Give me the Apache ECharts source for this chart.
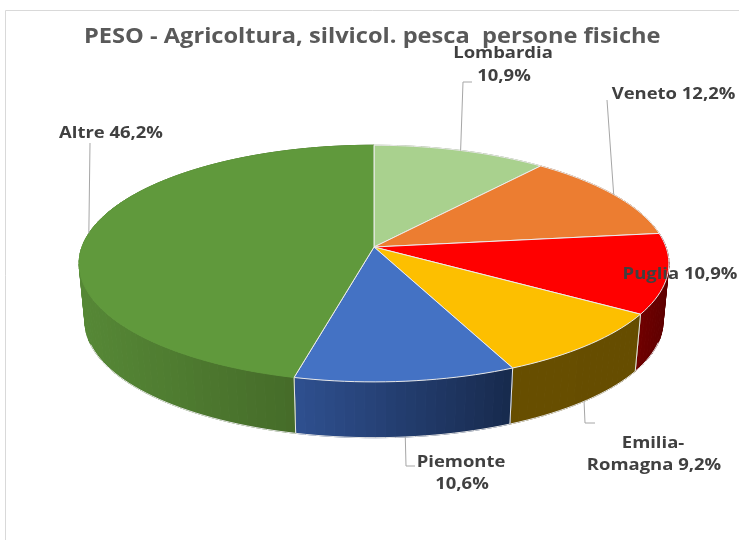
<!DOCTYPE html>
<html>
<head>
<meta charset="utf-8">
<style>html,body{margin:0;padding:0;background:#fff}#c{width:739px;height:540px}</style>
<script src="https://cdn.jsdelivr.net/npm/echarts@6/dist/echarts.min.js"></script>
</head>
<body>
<div id="c"></div>
<script>
const titleText = 'PESO - Agricoltura, silvicol. pesca  persone fisiche';
const categories = ['Lombardia', 'Veneto', 'Puglia', 'Emilia-Romagna', 'Piemonte', 'Altre'];
const values = [10.9, 12.2, 10.9, 9.2, 10.6, 46.2];
const topColors = ['#a9d18e', '#ec7d31', '#ff0000', '#fdbf00', '#4472c4', '#60993c'];
const rimColors = ['#e9e9e9', '#e9e9e9', '#e9e9e9', '#e9e9e9', '#e9e9e9', '#60993c'];
const sideLeft = [[127, 157, 106], [178, 94, 37], [112, 0, 0], [103, 78, 0], [47, 80, 144], [86, 136, 54]];
const sideRight = [[127, 157, 106], [178, 94, 37], [94, 0, 0], [102, 77, 0], [23, 42, 77], [63, 97, 36]];
// label lines: [text, centre x, centre y]
const labelLines = [
  [['Lombardia', 503, 53.5], ['10,9%', 504, 76.5]],
  [['Veneto 12,2%', 673.5, 94.5]],
  [['Puglia 10,9%', 680, 274.5]],
  [['Emilia-', 653, 443.5], ['Romagna 9,2%', 654, 465.5]],
  [['Piemonte', 461, 462.5], ['10,6%', 462, 484.5]],
  [['Altre 46,2%', 111, 133.5]]
];
// leader lines: elbow points after the rim anchor; rim: 0 top edge, 1 bottom edge
const leaderPaths = [
  [[463, 82], [472, 82]],
  [[607, 100]],
  [],
  [[585, 423], [595, 423]],
  [[406, 466], [415, 466]],
  [[90, 143]]
];
const leaderRim = [0, 0, 0, 1, 1, 0];

// projection of the pie disc
const apexX = 374, apexY = 247, radX = 292, radY = 116, persp = 0.14;
const baseScale = 0.98, baseDrop = 58.5;
const total = values.reduce((a, b) => a + b, 0);
const starts = values.map((_, i) => values.slice(0, i).reduce((a, b) => a + b, 0));

function project(share, bottom) {
  const ang = share / total * 2 * Math.PI;
  const x = Math.sin(ang), z = -Math.cos(ang);
  const d = 1 - persp * z;
  const px = radX * x / d, py = radY * z / d;
  return bottom ? [apexX + px * baseScale, apexY + py * baseScale + baseDrop] : [apexX + px, apexY + py];
}
function arc(from, to, bottom) {
  const n = Math.max(2, Math.ceil((to - from) * 2));
  const pts = [];
  for (let i = 0; i <= n; i++) pts.push(project(from + (to - from) * i / n, bottom));
  return pts;
}
function mix(a, b, t) {
  return 'rgb(' + a.map((c, k) => Math.round(c + (b[k] - c) * t)).join(',') + ')';
}

const option = {
  animation: false,
  backgroundColor: '#fff',
  graphic: [{
    type: 'rect', silent: true, z: -1,
    shape: { x: 5.5, y: 10.5, width: 800, height: 600 },
    style: { fill: 'none', stroke: '#d9d9d9', lineWidth: 1 }
  }, {
    type: 'text', silent: true, x: 84, y: 37, scaleX: 1.125, scaleY: 1,
    style: { text: titleText, x: 0, y: 0, align: 'left', verticalAlign: 'middle',
      fontFamily: 'Open Sans', fontWeight: 'bold', fontSize: 21, fill: '#595959' }
  }],
  series: [
    {
      type: 'custom', coordinateSystem: 'none', silent: true, z: 1,
      data: values.map(v => [v]),
      renderItem(params, api) {
        const i = params.dataIndex, s = starts[i], e = s + api.value(0);
        const t = arc(s, e, false), b = arc(s, e, true);
        const xs = t.map(p => p[0]);
        const x0 = Math.min(...xs), x1 = Math.max(...xs);
        const children = [];
        for (let k = 0; k + 1 < t.length; k++) {
          const f = ((t[k][0] + t[k + 1][0]) / 2 - x0) / Math.max(1, x1 - x0);
          const c = mix(sideLeft[i], sideRight[i], f);
          children.push({
            type: 'polygon', shape: { points: [t[k], t[k + 1], b[k + 1], b[k]] },
            style: { fill: c, stroke: c, lineWidth: 1 }
          });
        }
        // pale edge along the visible front of the base only
        const front = b.filter((p, k) => {
          const share = s + (e - s) * k / (b.length - 1);
          return Math.cos(share / total * 2 * Math.PI) < -0.3;
        });
        if (front.length > 1) {
          children.push({ type: 'polyline', shape: { points: front }, style: { fill: 'none', stroke: '#e6e6e6', lineWidth: 1 } });
        }
        const m = t.length - 1;
        [0, m].forEach(k => children.push({
          type: 'line', shape: { x1: t[k][0], y1: t[k][1], x2: b[k][0], y2: b[k][1] },
          style: { stroke: '#e6e6e6', lineWidth: 1 }
        }));
        return { type: 'group', children };
      }
    },
    {
      type: 'custom', coordinateSystem: 'none', silent: true, z: 2,
      data: values.map(v => [v]),
      renderItem(params, api) {
        const i = params.dataIndex, s = starts[i], e = s + api.value(0);
        const rim = arc(s, e, false);
        const apex = [apexX, apexY];
        return {
          type: 'group',
          children: [
            { type: 'polygon', shape: { points: [apex].concat(rim) }, style: { fill: topColors[i], stroke: null } },
            { type: 'polyline', shape: { points: rim }, style: { fill: 'none', stroke: rimColors[i], lineWidth: 1 } },
            { type: 'polyline', shape: { points: [rim[0], apex, rim[rim.length - 1]] }, style: { fill: 'none', stroke: '#ececec', lineWidth: 1 } }
          ]
        };
      }
    },
    {
      type: 'custom', coordinateSystem: 'none', silent: true, z: 3,
      data: values.map(v => [v]),
      renderItem(params, api) {
        const i = params.dataIndex;
        const mid = starts[i] + api.value(0) / 2;
        const children = [];
        if (leaderPaths[i].length) {
          children.push({
            type: 'polyline',
            shape: { points: [project(mid, leaderRim[i] === 1)].concat(leaderPaths[i]) },
            style: { fill: 'none', stroke: '#a6a6a6', lineWidth: 1 }
          });
        }
        labelLines[i].forEach(l => children.push({
          type: 'text', x: l[1], y: l[2], scaleX: 1.19, scaleY: 1,
          style: { text: l[0], x: 0, y: 0, align: 'center', verticalAlign: 'middle',
            fontFamily: 'Open Sans', fontWeight: 'bold', fontSize: 15.5, fill: '#404040' }
        }));
        return { type: 'group', children };
      }
    }
  ]
};
echarts.init(document.getElementById('c'), null, { renderer: 'canvas' }).setOption(option);
</script>
</body>
</html>
